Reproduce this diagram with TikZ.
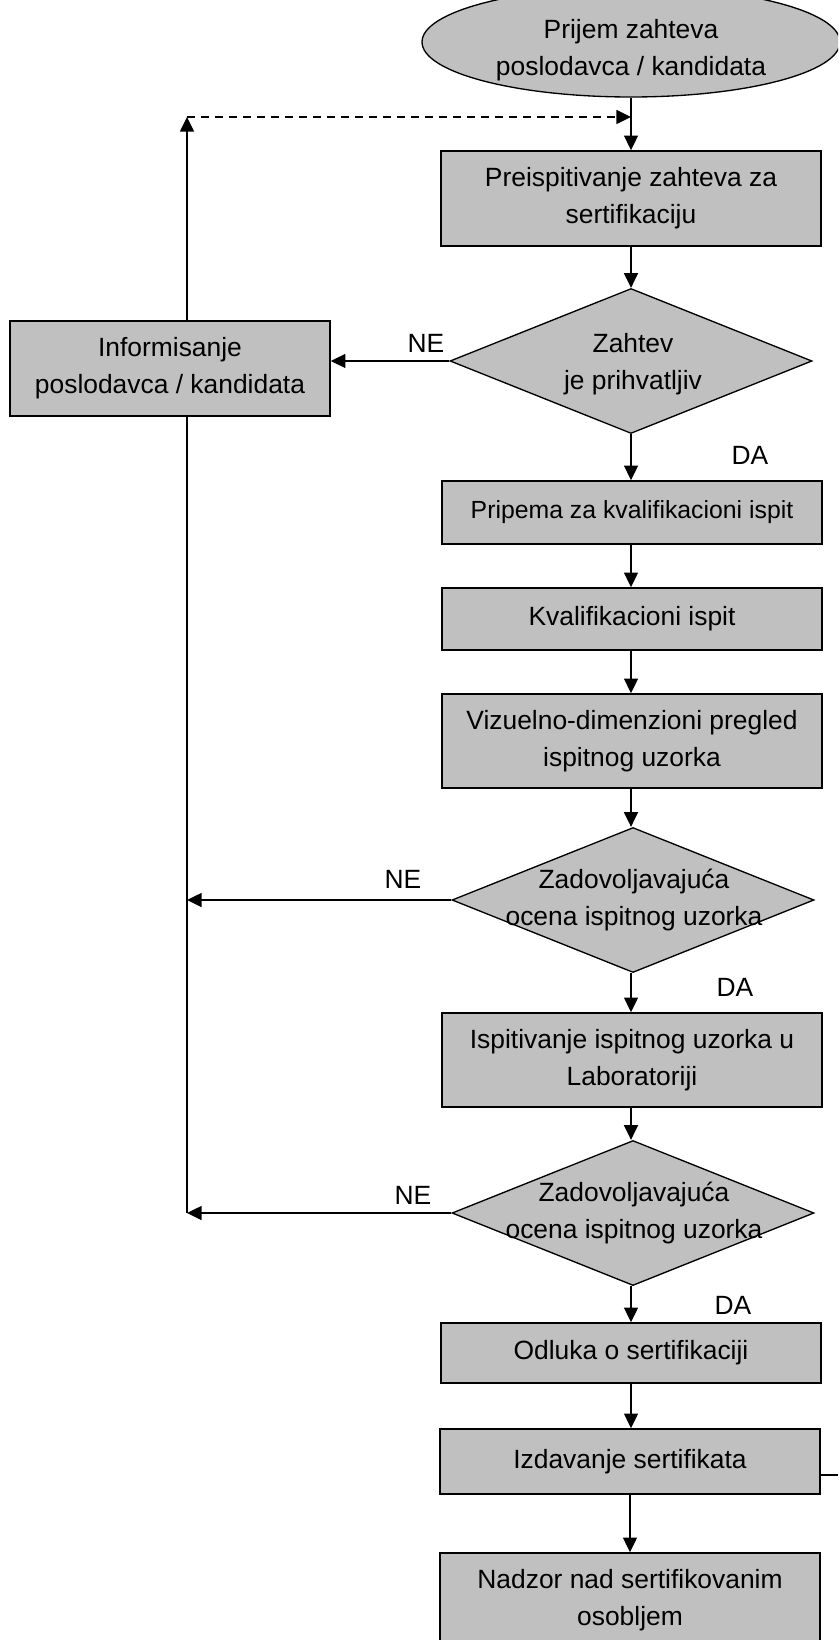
\documentclass[tikz,border=0pt]{standalone}
\usepackage{fontspec}
\setmainfont{Liberation Sans}
\usetikzlibrary{shapes.geometric,arrows.meta}
\definecolor{boxgray}{RGB}{192,192,192}
\begin{document}
\begin{tikzpicture}[x=0.75pt,y=-0.75pt,
  every node/.style={font=\fontsize{19.8}{27.5}\selectfont},
  box/.style={draw, line width=1.2pt, fill=boxgray, rectangle, minimum width=285pt, inner sep=0pt, align=center},
  dia/.style={draw, line width=1pt, fill=boxgray, diamond, inner sep=0pt, minimum width=271.5pt, minimum height=108.75pt},
  oval/.style={draw, line width=1pt, fill=boxgray, ellipse, inner sep=0pt, minimum width=313.5pt, minimum height=82.5pt},
  txt/.style={align=center, inner sep=0pt},
  lab/.style={inner sep=0pt},
  arr/.style={line width=1.1pt, -{Triangle[length=11pt,width=10.5pt]}},
  conn/.style={line width=1.1pt}
]
\useasboundingbox (0,0) rectangle (838,1640);
\clip (0,0) rectangle (838,1640);

% nodes
\node[oval] (start) at (631,42) {};
\node[txt] (startt) at (631,50) {Prijem zahteva\\poslodavca / kandidata};
\node[box, minimum height=71.25pt] (p1) at (631,198.5) {Preispitivanje zahteva za\\sertifikaciju};
\node[dia] (d1) at (631,361) {};
\node[txt] (d1t) at (633,364) {Zahtev\\je prihvatljiv};
\node[box, minimum width=240pt, minimum height=71.25pt] (info) at (170,368.5) {Informisanje\\poslodavca / kandidata};
\node[box, minimum height=47.25pt, font=\fontsize{18.6}{26}\selectfont] (p2) at (632,512.5) {Pripema za kvalifikacioni ispit};
\node[box, minimum height=46.5pt] (p3) at (632,619) {Kvalifikacioni ispit};
\node[box, minimum height=70.5pt] (p4) at (632,741) {Vizuelno-dimenzioni pregled\\ispitnog uzorka};
\node[dia] (d2) at (633,900) {};
\node[txt] (d2t) at (634,900) {Zadovoljavajuća\\ocena ispitnog uzorka};
\node[box, minimum height=70.5pt] (p5) at (632,1060) {Ispitivanje ispitnog uzorka u\\Laboratoriji};
\node[dia] (d3) at (633,1213) {};
\node[txt] (d3t) at (634,1213) {Zadovoljavajuća\\ocena ispitnog uzorka};
\node[box, minimum height=45pt] (p6) at (631,1353) {Odluka o sertifikaciji};
\node[box, minimum height=48.75pt] (p7) at (630,1461.5) {Izdavanje sertifikata};
\node[box, minimum height=70.5pt] (p8) at (630,1600) {Nadzor nad sertifikovanim\\osobljem};

% labels
\node[lab] (ne1) at (426,343) {NE};
\node[lab] (ne2) at (403,879) {NE};
\node[lab] (ne3) at (413,1195) {NE};
\node[lab] (da1) at (750,455) {DA};
\node[lab] (da2) at (735,987) {DA};
\node[lab] (da3) at (733,1305) {DA};

% coordinates
\coordinate (c1) at (187,117);
\coordinate (c2) at (631,117);
\coordinate (c3) at (187,1213);
\coordinate (c4) at (838,1475);

% main column
\draw[arr] (start.south) -- (p1.north);
\draw[arr] (p1.south) -- (d1.north);
\draw[arr] (d1.south) -- (d1.south |- p2.north);
\draw[arr] (p2.south -| d1.south) -- (d1.south |- p3.north);
\draw[arr] (p3.south -| d1.south) -- (d1.south |- p4.north);
\draw[arr] (p4.south -| d1.south) -- (d1.south |- d2.north);
\draw[arr] (d2.south -| d1.south) -- (d1.south |- p5.north);
\draw[arr] (p5.south -| d1.south) -- (d1.south |- d3.north);
\draw[arr] (d3.south -| d1.south) -- (d1.south |- p6.north);
\draw[arr] (p6.south -| d1.south) -- (d1.south |- p7.north);
\draw[arr] (p7.south) -- (p8.north);

% left loop
\draw[arr] (d1.west) -- (d1.west -| info.east);
\draw[arr] (info.north -| c1) -- (c1);
\draw[arr, dash pattern=on 6pt off 4.5pt] (c1) -- (c2);
\draw[conn] (info.south -| c1) -- (c3);
\draw[arr] (d2.west) -- (d2.west -| c1);
\draw[arr] (d3.west) -- (c3);

% right stub
\draw[conn] (p7.east |- c4) -- (c4);
\end{tikzpicture}
\end{document}
